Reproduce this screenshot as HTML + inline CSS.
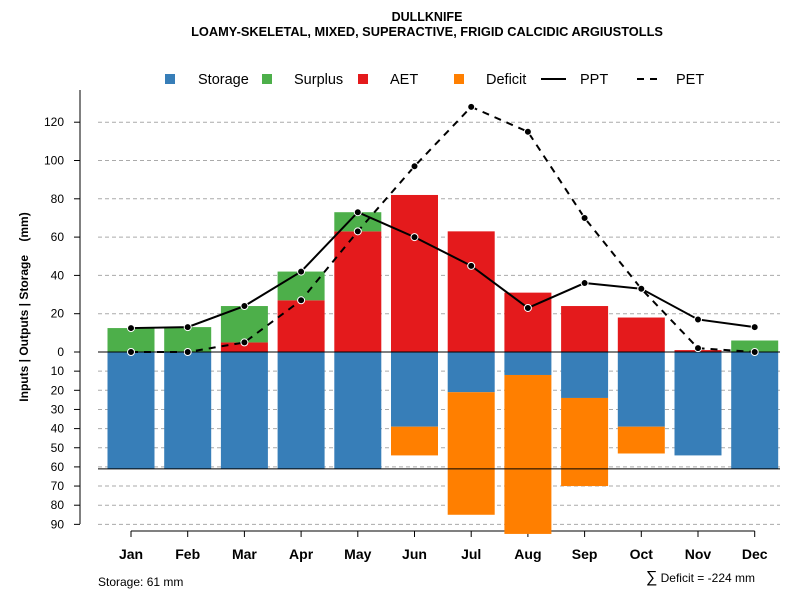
<!DOCTYPE html>
<html><head><meta charset="utf-8"><style>
body{margin:0;background:#fff;font-family:"Liberation Sans",sans-serif}
svg text{font-family:"Liberation Sans",sans-serif}
</style></head><body>
<svg id="c" width="800" height="600">
<text x="427" y="21" text-anchor="middle" font-size="12.5" font-weight="bold">DULLKNIFE</text>
<text x="427" y="36" text-anchor="middle" font-size="12.8" font-weight="bold">LOAMY-SKELETAL, MIXED, SUPERACTIVE, FRIGID CALCIDIC ARGIUSTOLLS</text>
<text transform="translate(28,307) rotate(-90)" text-anchor="middle" font-size="12" font-weight="bold" xml:space="preserve">Inputs | Outputs | Storage    (mm)</text>
<text x="98" y="586" font-size="12">Storage: 61 mm</text>
<text x="755" y="582" text-anchor="end" font-size="12"><tspan font-size="16">∑</tspan> Deficit = -224 mm</text>
<g>
<rect x="165" y="74" width="10" height="10" fill="#377eb8"/><text x="198" y="84" font-size="14.5">Storage</text>
<rect x="262" y="74" width="10" height="10" fill="#4daf4a"/><text x="294" y="84" font-size="14.5">Surplus</text>
<rect x="358" y="74" width="10" height="10" fill="#e41a1c"/><text x="390" y="84" font-size="14.5">AET</text>
<rect x="454" y="74" width="10" height="10" fill="#ff7f00"/><text x="486" y="84" font-size="14.5">Deficit</text>
<line x1="541" y1="79" x2="566" y2="79" stroke="#000" stroke-width="2"/><text x="580" y="84" font-size="14.5">PPT</text>
<line x1="637" y1="79" x2="662" y2="79" stroke="#000" stroke-width="2" stroke-dasharray="7,6"/><text x="676" y="84" font-size="14.5">PET</text>
</g>
<g id="plot"></g>
</svg>
<script>
const months=["Jan","Feb","Mar","Apr","May","Jun","Jul","Aug","Sep","Oct","Nov","Dec"];
const storage=[61,61,61,61,61,39,21,12,24,39,54,61];
const deficit=[0,0,0,0,0,15,64,83,46,14,0,0];
const aet=[0,0,5,27,63,82,63,31,24,18,1,0];
const surplus=[12.5,13,19,15,10,0,0,0,0,0,0,6];
const ppt=[12.5,13,24,42,73,60,45,23,36,33,17,13];
const pet=[0,0,5,27,63,97,128,115,70,33,2,0];
const posTicks=[0,20,40,60,80,100,120];
const negTicks=[10,20,30,40,50,60,70,80,90];
const NS="http://www.w3.org/2000/svg";
const g=document.getElementById("plot");
const y=v=>352-v*1.915;
const x=i=>131+i*56.7;
const bw=47;
function el(t,a){const e=document.createElementNS(NS,t);for(const k in a)e.setAttribute(k,a[k]);g.appendChild(e);return e;}
posTicks.forEach(v=>{
 if(v>0){const l=el("line",{x1:98,x2:780,y1:y(v),y2:y(v),stroke:"#aaa","stroke-dasharray":"4,3"});}
 const t=el("line",{x1:74,x2:80,y1:y(v),y2:y(v),stroke:"#000"});
 const tx=el("text",{x:64,y:y(v)+4,"text-anchor":"end","font-size":12});tx.textContent=v;
});
negTicks.forEach(v=>{
 const l=el("line",{x1:98,x2:780,y1:y(-v),y2:y(-v),stroke:"#aaa","stroke-dasharray":"4,3"});
 const t=el("line",{x1:74,x2:80,y1:y(-v),y2:y(-v),stroke:"#000"});
 const tx=el("text",{x:64,y:y(-v)+4,"text-anchor":"end","font-size":12});tx.textContent=v;
});
const ax=el("line",{x1:80,x2:80,y1:90,y2:524,stroke:"#000"});
const xa=el("line",{x1:x(0),x2:x(11),y1:531,y2:531,stroke:"#000"});
months.forEach((m,i)=>{
 const t=el("line",{x1:x(i),x2:x(i),y1:531,y2:537,stroke:"#000"});
 const tx=el("text",{x:x(i),y:559,"text-anchor":"middle","font-size":14,"font-weight":"bold"});tx.textContent=m;
 const sb=el("rect",{x:x(i)-bw/2,y:y(0),width:bw,height:y(-storage[i])-y(0),fill:"#377eb8"});
 if(deficit[i]>0){const d=el("rect",{x:x(i)-bw/2,y:y(-storage[i]),width:bw,height:y(-storage[i]-deficit[i])-y(-storage[i]),fill:"#ff7f00"});}
 if(aet[i]>0){const a=el("rect",{x:x(i)-bw/2,y:y(aet[i]),width:bw,height:y(0)-y(aet[i]),fill:"#e41a1c"});}
 if(surplus[i]>0){const s=el("rect",{x:x(i)-bw/2,y:y(aet[i]+surplus[i]),width:bw,height:y(aet[i])-y(aet[i]+surplus[i]),fill:"#4daf4a"});}
});
const zl=el("line",{x1:98,x2:780,y1:y(0),y2:y(0),stroke:"#000"});
const sl=el("line",{x1:98,x2:780,y1:y(-61),y2:y(-61),stroke:"#000"});
const pp=el("polyline",{points:ppt.map((v,i)=>x(i)+","+y(v)).join(" "),fill:"none",stroke:"#000","stroke-width":2});
const pe=el("polyline",{points:pet.map((v,i)=>x(i)+","+y(v)).join(" "),fill:"none",stroke:"#000","stroke-width":2,"stroke-dasharray":"7,6"});
[ppt,pet].forEach((s,k)=>s.forEach((v,i)=>{const c=el("circle",{cx:x(i),cy:y(v),r:3.5,fill:"#000",stroke:"#fff","stroke-width":1});}));
</script>
</body></html>
